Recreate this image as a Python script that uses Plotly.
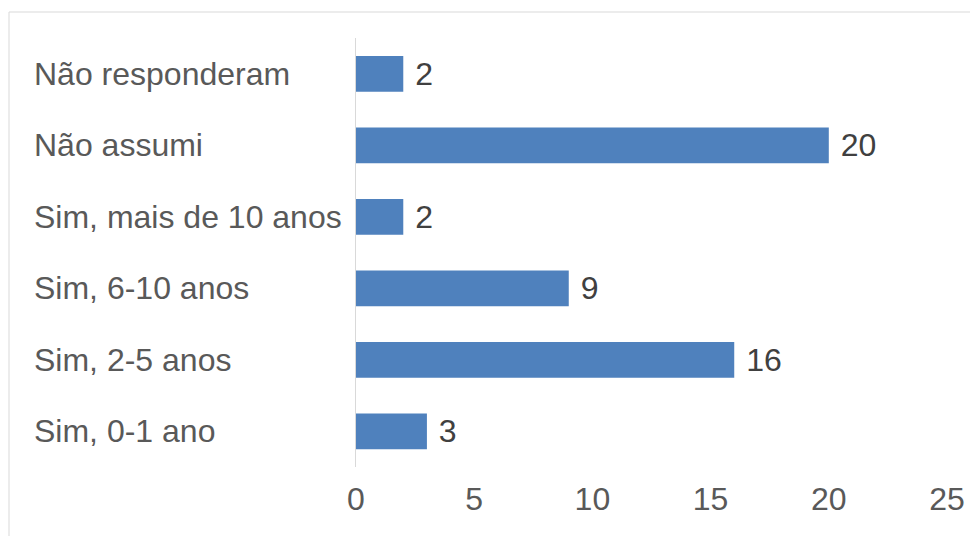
import plotly.graph_objects as go

categories = ["Não responderam", "Não assumi", "Sim, mais de 10 anos",
              "Sim, 6-10 anos", "Sim, 2-5 anos", "Sim, 0-1 ano"]
values = [2, 20, 2, 9, 16, 3]
tick_vals = [0, 5, 10, 15, 20, 25]
tick_text = ["0", "5", "10", "15", "20", "25"]

OFF = 8  # browser body margin
W, H = 978 - OFF, 536 - OFF
ML, MR, MT, MB = 356 - OFF, 31, 38 - OFF, 69
PW = W - ML - MR
PH = H - MT - MB
FONT = "Liberation Sans, Arial, sans-serif"
TXT = "#595959"
FS = 32

fig = go.Figure(go.Bar(
    x=values, y=categories, orientation="h",
    marker=dict(color="#4F81BD", line=dict(width=0)),
    text=[" " + str(v) for v in values], textposition="outside",
    textfont=dict(family=FONT, size=FS, color="#404040"),
    cliponaxis=False, width=0.5,
))

for c in categories:
    fig.add_annotation(x=(32 - OFF - ML) / PW, xref="paper", y=c, yref="y",
                       text=c, showarrow=False, xanchor="left",
                       font=dict(family=FONT, size=FS, color=TXT))

fig.add_shape(type="rect", xref="paper", yref="paper",
              x0=(9 - OFF - ML) / PW, x1=(W + 20 - ML) / PW,
              y0=-(MB + 20) / PH, y1=(PH + MT - (12 - OFF)) / PH,
              line=dict(color="#D9D9D9", width=1), layer="below")

fig.update_layout(
    width=W, height=H,
    margin=dict(l=ML, r=MR, t=MT, b=MB),
    plot_bgcolor="white", paper_bgcolor="white",
    showlegend=False,
    bargap=0.5,
    uniformtext=dict(minsize=FS, mode="show"),
    xaxis=dict(range=[0, 25], tickvals=tick_vals, ticktext=tick_text,
               showgrid=False, zeroline=False, showline=False,
               ticks="", ticklabelstandoff=10,
               tickfont=dict(family=FONT, size=FS, color=TXT)),
    yaxis=dict(autorange="reversed", showticklabels=False, showgrid=False,
               zeroline=False, showline=True, linecolor="#D9D9D9",
               linewidth=1, ticks=""),
)

fig.write_html("out.html")
